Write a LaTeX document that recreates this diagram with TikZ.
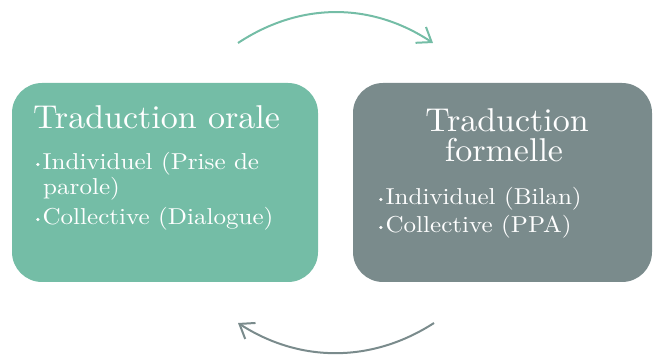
\documentclass[tikz,border=0pt]{standalone}
\usepackage{fontspec}
\usetikzlibrary{arrows.meta}
\newfontfamily\ttlfont{lmroman10-regular.otf}[FakeStretch=1.03]
\newfontfamily\itmfont{lmroman10-regular.otf}[FakeStretch=1.09]
\definecolor{tealg}{HTML}{74BDA6}
\definecolor{grayb}{HTML}{7A8B8C}
\tikzset{
  box/.style={rounded corners=30pt, inner sep=0pt},
  ttl/.style={text=white, font=\ttlfont\fontsize{33}{37}\selectfont, inner sep=0pt},
  itm/.style={text=white, font=\itmfont\fontsize{23}{27}\selectfont, inner sep=0pt, anchor=base west},
  cyc/.style={line width=2pt, -{Straight Barb[length=13pt,width=19pt,line width=2pt]}}
}
\newcommand{\bdot}{\tikz[baseline]\fill (0,5.5pt) circle (1.7pt);\hspace{3pt}}
\begin{document}
\begin{tikzpicture}[x=1pt,y=1pt]
\useasboundingbox (0,0) rectangle (653,356);
\fill[box, fill=tealg] (12,74) rectangle (318,273);
\node[box, minimum width=306pt, minimum height=199pt] (left) at (165,173.5) {};
\fill[box, fill=grayb] (353,74) rectangle (652,273);
\node[box, minimum width=299pt, minimum height=199pt] (right) at (502.5,173.5) {};
% left texts
\node[ttl, anchor=base west] (lt) at (33,227) {Traduction orale};
\node[itm] (l1) at (36,186) {\bdot Individuel (Prise de};
\node[itm] (l2) at (43,161) {parole)};
\node[itm] (l3) at (36,131) {\bdot Collective (Dialogue)};
% right texts
\node[ttl, anchor=base] (rt1) at (507,224) {Traduction};
\node[ttl, anchor=base] (rt2) at (504,194) {formelle};
\node[itm] (r1) at (379,151) {\bdot Individuel (Bilan)};
\node[itm] (r2) at (379,123) {\bdot Collective (PPA)};
% cycle arrows
\coordinate (t1) at (238,313);
\coordinate (t2) at (433,313);
\coordinate (b1) at (434,33);
\coordinate (b2) at (238,33);
\draw[cyc, tealg] (t1) .. controls (300,354) and (371,354) .. (t2);
\draw[cyc, grayb] (b1) .. controls (372,-7) and (300,-7) .. (b2);
\end{tikzpicture}
\end{document}
